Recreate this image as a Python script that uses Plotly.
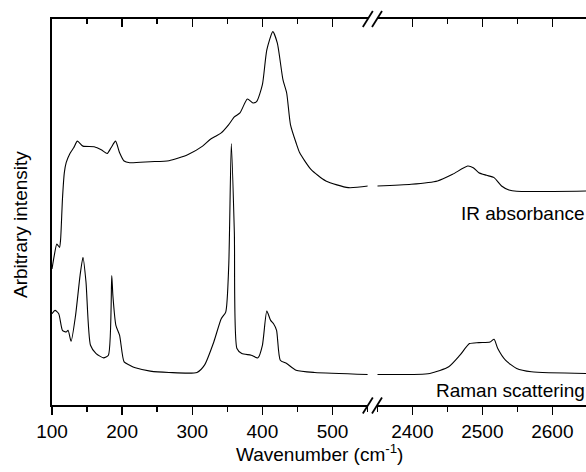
import plotly.graph_objects as go

# ---------------- data ----------------
ir_left_wn = [100, 103.2, 106.9, 110.7, 112.3, 114.9, 117.6, 120.2, 125.6, 130.9, 136.2, 144.2, 160.2,
              170.9, 178.8, 184.2, 190.6, 196.4, 202.8, 210.8, 240.1, 266.8, 293.4, 314.7, 325.4, 333.4,
              341.3, 352, 360, 368, 378.6, 386.6, 392, 400, 406.3, 414.9, 421.3, 429.3, 434.6, 440, 448,
              453.2, 469.2, 490.5, 522.5, 551.8]
ir_left_val = [41.0, 45.0, 48.5, 47.5, 50, 62.0, 70, 73.0, 75.8, 77.5, 79.5, 78.0, 77.8,
               76.8, 75.8, 77.5, 79.5, 76, 73.5, 73.0, 73.3, 73.6, 75.4, 78.0, 80, 81,
               82, 84.5, 86.8, 88, 92.2, 91, 91.5, 96.5, 107, 112.5, 109, 98, 94, 84.5, 79,
               76, 71, 67.5, 65.5, 66]
ir_right_wn = [2350, 2398.4, 2436, 2457.5, 2479, 2487, 2495, 2506, 2516.7, 2527.4, 2538, 2549, 2650]
ir_right_val = [66, 66.5, 67.5, 69.5, 72, 71.5, 70, 69.2, 68.5, 66, 64.8, 64.4, 64.5]

raman_left_wn = [100, 104.3, 109.6, 114.9, 120.2, 122.9, 127.2, 133.6, 140, 144.2, 148.5, 154.9, 162.9,
                 173.5, 180.4, 185.2, 186.8, 191.1, 196.4, 202.8, 210.8, 218.8, 240.1, 266.8, 306.7,
                 317.4, 330.7, 341.3, 347.7, 352, 355.7, 360, 363.7, 370.6, 384, 393.6, 400, 406.3,
                 411.7, 415.9, 420.2, 425.5, 434.6, 448, 474.5, 551.8]
raman_left_val = [27.5, 28.5, 27.5, 22.5, 22, 22.5, 19.2, 27, 39, 44.5, 37, 18, 15.5,
                  14.2, 15, 39, 33, 24, 21, 13, 12, 11.2, 10.2, 9.8, 9.8,
                  12, 19, 26, 28, 42, 78.8, 52, 17, 15.5, 15, 14.2, 18, 28.3,
                  25.5, 24.5, 22.5, 13.5, 12.5, 10.5, 9.8, 9.2]
raman_right_wn = [2350, 2425, 2452, 2468, 2481.7, 2495, 2511, 2516.7, 2522, 2533, 2549, 2570, 2650]
raman_right_val = [9.2, 9.5, 11.5, 15, 18.5, 18.8, 19, 19.8, 17, 13.5, 11, 10, 9.5]

left_ticks = [100, 200, 300, 400, 500]
right_ticks = [2400, 2500, 2600]
left_range = [100, 550]
right_range = [2350, 2648]
y_range = [0, 116.3]

# ---------------- layout geometry ----------------
W, H = 586, 472
ML, MR, MT, MB = 52, 0, 19, 67
PW = W - ML - MR
PH = H - MT - MB
left_dom = [0, (367.6 - ML) / PW]
right_dom = [(377.3 - ML) / PW, 1.0]

FONT = "Liberation Sans, Arial, sans-serif"
line = dict(color="black", width=1.1, shape="spline", smoothing=0.6)

fig = go.Figure()
fig.add_trace(go.Scatter(x=ir_left_wn, y=ir_left_val, mode="lines", line=line, xaxis="x", yaxis="y"))
fig.add_trace(go.Scatter(x=raman_left_wn, y=raman_left_val, mode="lines", line=line, xaxis="x", yaxis="y"))
fig.add_trace(go.Scatter(x=ir_right_wn, y=ir_right_val, mode="lines", line=line, xaxis="x2", yaxis="y"))
fig.add_trace(go.Scatter(x=raman_right_wn, y=raman_right_val, mode="lines", line=line, xaxis="x2", yaxis="y"))

common_bottom = dict(showgrid=False, zeroline=False, showline=True, linecolor="black", linewidth=2,
                     ticks="outside", ticklen=8, tickwidth=1.5, tickcolor="black",
                     tickfont=dict(family=FONT, size=19, color="black"),
                     minor=dict(ticks="outside", ticklen=5, tickwidth=1.5, tickcolor="black",
                                dtick=50, tick0=50),
                     anchor="y", fixedrange=True)
common_top = dict(showgrid=False, zeroline=False, showline=True, linecolor="black", linewidth=2,
                  ticks="inside", ticklen=8, tickwidth=1.5, tickcolor="black", showticklabels=False,
                  minor=dict(ticks="inside", ticklen=5, tickwidth=1.5, tickcolor="black",
                             dtick=50, tick0=50),
                  side="top", anchor="y", fixedrange=True)

fig.update_layout(
    width=W, height=H,
    margin=dict(l=ML, r=MR, t=MT, b=MB),
    paper_bgcolor="white", plot_bgcolor="white",
    showlegend=False,
    xaxis=dict(domain=left_dom, range=left_range, tickvals=left_ticks,
               ticktext=[str(v) for v in left_ticks], **common_bottom),
    xaxis2=dict(domain=right_dom, range=right_range, tickvals=right_ticks,
                ticktext=[str(v) for v in right_ticks], **common_bottom),
    xaxis3=dict(domain=left_dom, range=left_range, tickvals=left_ticks, overlaying="x", **common_top),
    xaxis4=dict(domain=right_dom, range=right_range, tickvals=right_ticks, overlaying="x2", **common_top),
    yaxis=dict(range=y_range, showgrid=False, zeroline=False, showline=True, linecolor="black",
               linewidth=2, ticks="", showticklabels=False, fixedrange=True),
)

# ensure the top (inward-tick) overlay axes are drawn
fig.add_trace(go.Scatter(x=[left_range[0]], y=[y_range[0]], mode="markers", marker=dict(opacity=0),
                         xaxis="x3", yaxis="y", hoverinfo="skip"))
fig.add_trace(go.Scatter(x=[right_range[0]], y=[y_range[0]], mode="markers", marker=dict(opacity=0),
                         xaxis="x4", yaxis="y", hoverinfo="skip"))

# axis-break marks "//"
def px2paper_x(px):
    return (px - ML) / PW

def px2paper_y(py):
    return (H - MB - py) / PH

shapes = []
for yp in [19, 405.5]:
    for xp in [367.8, 377.0]:
        shapes.append(dict(type="line", xref="paper", yref="paper",
                           x0=px2paper_x(xp - 5), y0=px2paper_y(yp + 8),
                           x1=px2paper_x(xp + 5), y1=px2paper_y(yp - 8),
                           line=dict(color="black", width=1.8)))
fig.update_layout(shapes=shapes)

ann_font = dict(family=FONT, size=19, color="black")
fig.add_annotation(text="IR absorbance", xref="paper", yref="paper", x=1.0, y=px2paper_y(213),
                   xanchor="right", yanchor="middle", showarrow=False, font=ann_font, borderpad=0)
fig.add_annotation(text="Raman scattering", xref="paper", yref="paper", x=1.0, y=px2paper_y(390),
                   xanchor="right", yanchor="middle", showarrow=False, font=ann_font, borderpad=0)
fig.add_annotation(text="Arbitrary intensity", xref="paper", yref="paper", x=px2paper_x(20),
                   y=px2paper_y(225), xanchor="center", yanchor="middle", textangle=-90,
                   showarrow=False, font=ann_font)
fig.add_annotation(text="Wavenumber (cm<sup>-1</sup>)", xref="paper", yref="paper", x=px2paper_x(319),
                   y=px2paper_y(453), xanchor="center", yanchor="middle", showarrow=False, font=ann_font)

fig.write_html("out.html", config={"displayModeBar": False, "staticPlot": True},
               post_script="document.body.style.margin='0';document.body.style.overflow='hidden';")
